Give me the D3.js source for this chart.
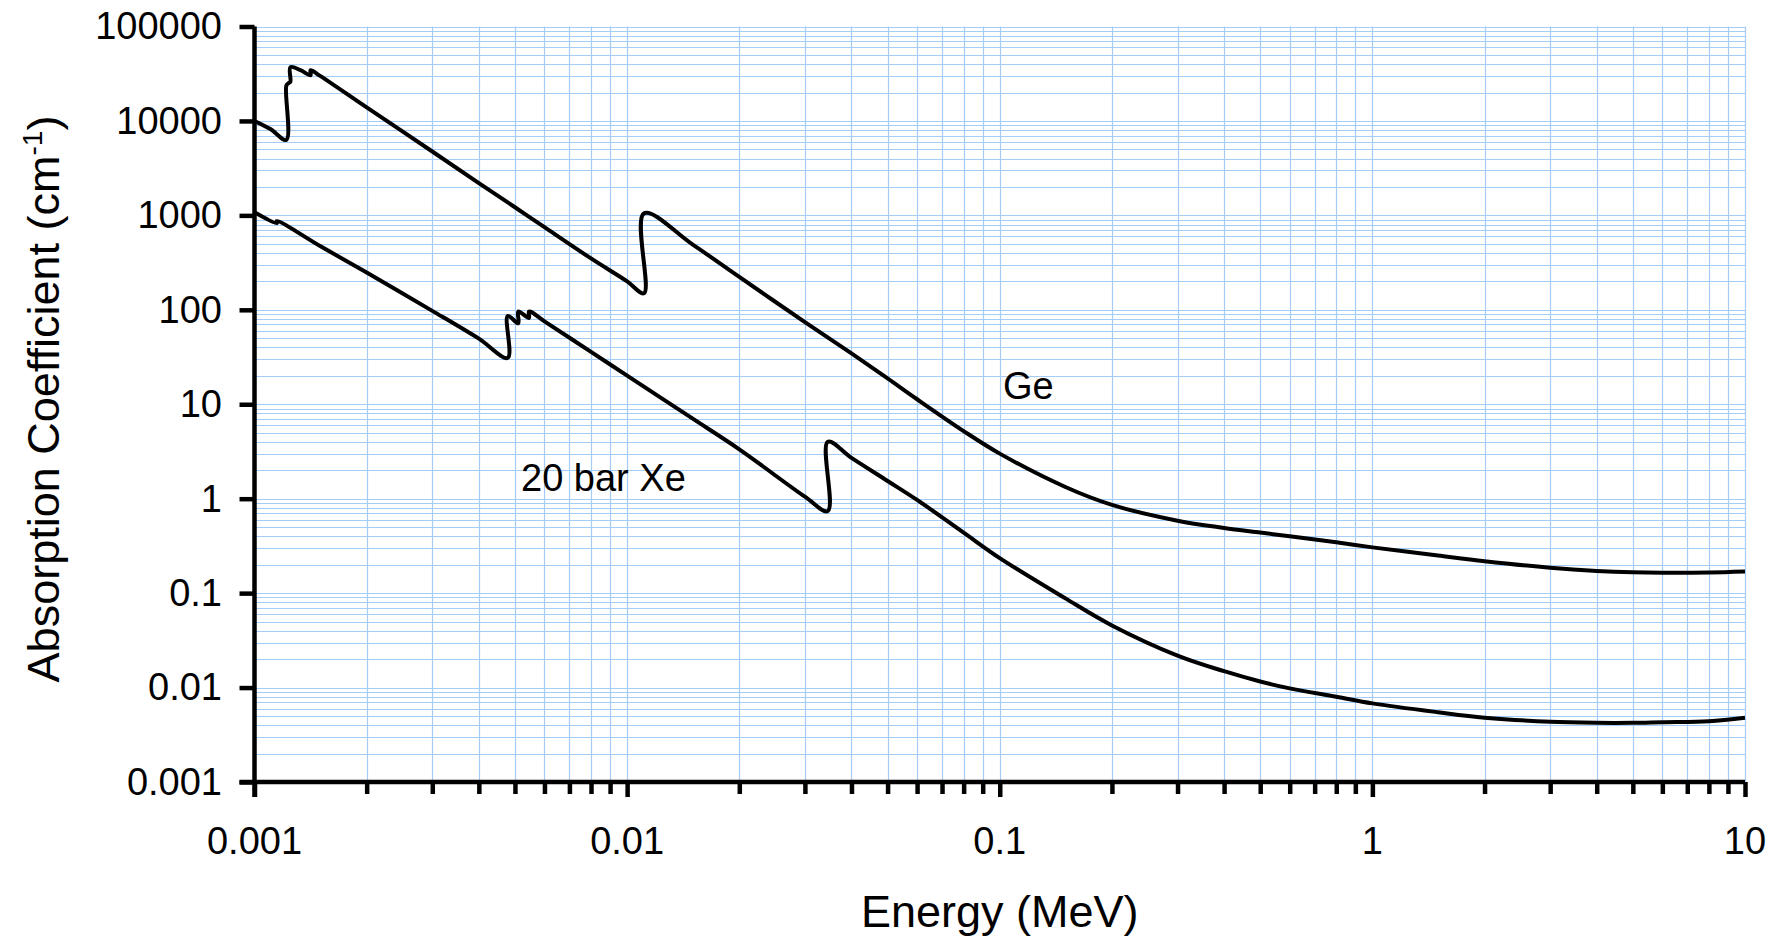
<!DOCTYPE html>
<html>
<head>
<meta charset="utf-8">
<script src="https://cdn.jsdelivr.net/npm/d3@7"></script>
<style>
  body { margin: 0; background: #fff; }
  svg { display: block; font-family: "Liberation Sans", Arial, sans-serif; }
</style>
</head>
<body>
<svg id="chart"></svg>
<script>
// energie in MeV, absorptie in 1/cm
const geEnergy = [0.001, 0.001103, 0.001217, 0.001217, 0.001232, 0.001248, 0.001248, 0.001328, 0.001414, 0.001414,
    0.0015, 0.002, 0.003, 0.004, 0.005, 0.006, 0.008, 0.01, 0.0111, 0.0111,
    0.015, 0.02, 0.03, 0.04, 0.05, 0.06, 0.08, 0.1, 0.15, 0.2,
    0.3, 0.4, 0.5, 0.6, 0.8, 1, 1.5, 2, 3, 4, 5, 6, 8, 10]
const geMu = [10000, 8200, 6300, 23500, 25000, 26000, 37000, 34500, 30500, 34500,
    30000, 13900, 4750, 2200, 1220, 750, 350, 200, 150, 1050,
    490, 223, 74, 34.5, 18.8, 11.3, 5.2, 3.0, 1.33, 0.86,
    0.585, 0.49, 0.438, 0.40, 0.345, 0.305, 0.25, 0.218, 0.186, 0.172, 0.166, 0.164, 0.165, 0.169]

const xeEnergy = [0.001, 0.001148, 0.001148, 0.0015, 0.002, 0.003, 0.004, 0.004782, 0.004782, 0.005104,
    0.005104, 0.005453, 0.005453, 0.006, 0.008, 0.01, 0.015, 0.02, 0.03, 0.03456,
    0.03456, 0.04, 0.05, 0.06, 0.08, 0.1, 0.15, 0.2, 0.3, 0.4,
    0.5, 0.6, 0.8, 1, 1.5, 2, 3, 4, 5, 6, 8, 10]
const xeMu = [1080, 830, 870, 473, 248, 97.5, 49.5, 31, 86, 72,
    96, 82, 96, 75.5, 35.8, 20.1, 7.03, 3.33, 1.05, 0.74,
    4.0, 2.7, 1.54, 0.97, 0.437, 0.235, 0.088, 0.0455, 0.0218, 0.0149,
    0.0116, 0.0098, 0.0080, 0.0068, 0.00548, 0.0048, 0.00434, 0.00423, 0.00423, 0.0043, 0.0044, 0.00478]

const xTickValues = [0.001, 0.01, 0.1, 1, 10]
const xTickLabels = ["0.001", "0.01", "0.1", "1", "10"]
const yTickValues = [0.001, 0.01, 0.1, 1, 10, 100, 1000, 10000, 100000]
const yTickLabels = ["0.001", "0.01", "0.1", "1", "10", "100", "1000", "10000", "100000"]

const width = 1781
const height = 938
const plotLeft = 254.5, plotRight = 1745, plotTop = 26.5, plotBottom = 782

const svg = d3.select("#chart")
    .attr("width", width)
    .attr("height", height)

const x = d3.scaleLog().domain([0.001, 10]).range([plotLeft, plotRight])
const y = d3.scaleLog().domain([0.001, 100000]).range([plotBottom, plotTop])

// rasterlijnen
const grid = svg.append("g")
grid.selectAll(".vgrid")
    .data(x.ticks())
    .enter().append("line")
    .attr("x1", d => Math.round(x(d)) + 0.5)
    .attr("x2", d => Math.round(x(d)) + 0.5)
    .attr("y1", plotTop)
    .attr("y2", plotBottom)
    .attr("stroke", "#a3cdf7")
    .attr("stroke-width", 1.2)
grid.selectAll(".hgrid")
    .data(y.ticks())
    .enter().append("line")
    .attr("x1", plotLeft)
    .attr("x2", plotRight)
    .attr("y1", d => Math.round(y(d)) + 0.5)
    .attr("y2", d => Math.round(y(d)) + 0.5)
    .attr("stroke", "#a3cdf7")
    .attr("stroke-width", 1.2)

// curves
const lijn = d3.line()
    .x(d => x(d[0]))
    .y(d => y(d[1]))
    .curve(d3.curveCatmullRom.alpha(0.5))

const series = [
    geEnergy.map((e, i) => [e, geMu[i]]),
    xeEnergy.map((e, i) => [e, xeMu[i]])
]

svg.append("g").selectAll("path")
    .data(series)
    .enter().append("path")
    .attr("d", d => lijn(d))
    .attr("fill", "none")
    .attr("stroke", "#000")
    .attr("stroke-width", 4)
    .attr("stroke-linejoin", "round")

// assen
const xMinor = x.ticks().filter(d => !xTickValues.some(v => Math.abs(v - d) / v < 1e-6))

svg.append("g")
    .attr("transform", `translate(0,${plotBottom})`)
    .call(d3.axisBottom(x).tickValues(xMinor).tickSize(12).tickFormat(""))
    .call(g => g.select(".domain").remove())
    .selectAll("line").attr("stroke-width", 4.5)

svg.append("g")
    .attr("transform", `translate(0,${plotBottom})`)
    .call(d3.axisBottom(x).tickValues(xTickValues).tickSize(15).tickSizeOuter(0).tickFormat(""))
    .call(g => g.select(".domain").attr("stroke-width", 4.5).attr("d", `M${plotLeft - 15},0H${plotRight}`))
    .selectAll("line").attr("stroke-width", 4.5)

svg.append("g")
    .attr("transform", `translate(${plotLeft},0)`)
    .call(d3.axisLeft(y).tickValues(yTickValues).tickSize(15).tickSizeOuter(0).tickFormat(""))
    .call(g => g.select(".domain").attr("stroke-width", 4.5).attr("d", `M0,${plotTop}V${plotBottom + 15}`))
    .selectAll("line").attr("stroke-width", 4.5)

// tick labels
svg.append("g").selectAll("text")
    .data(xTickValues)
    .enter().append("text")
    .attr("x", d => x(d))
    .attr("y", 854)
    .attr("text-anchor", "middle")
    .attr("font-size", 38)
    .text((d, i) => xTickLabels[i])

svg.append("g").selectAll("text")
    .data(yTickValues)
    .enter().append("text")
    .attr("x", 222)
    .attr("y", d => y(d))
    .attr("dy", "0.34em")
    .attr("text-anchor", "end")
    .attr("font-size", 38)
    .text((d, i) => yTickLabels[i])

// titels
svg.append("text")
    .attr("x", (plotLeft + plotRight) / 2)
    .attr("y", 927)
    .attr("text-anchor", "middle")
    .attr("font-size", 45)
    .text("Energy (MeV)")

const yTitel = svg.append("text")
    .attr("transform", "translate(59,399) rotate(-90)")
    .attr("text-anchor", "middle")
    .attr("font-size", 45)
yTitel.append("tspan").text("Absorption Coefficient (cm")
yTitel.append("tspan").attr("font-size", 28).attr("dy", -17).text("-1")
yTitel.append("tspan").attr("dy", 17).text(")")

// labels bij de curves
svg.append("text")
    .attr("x", 1003)
    .attr("y", 399)
    .attr("font-size", 38)
    .text("Ge")

svg.append("text")
    .attr("x", 521)
    .attr("y", 491)
    .attr("font-size", 38)
    .text("20 bar Xe")
</script>
</body>
</html>
